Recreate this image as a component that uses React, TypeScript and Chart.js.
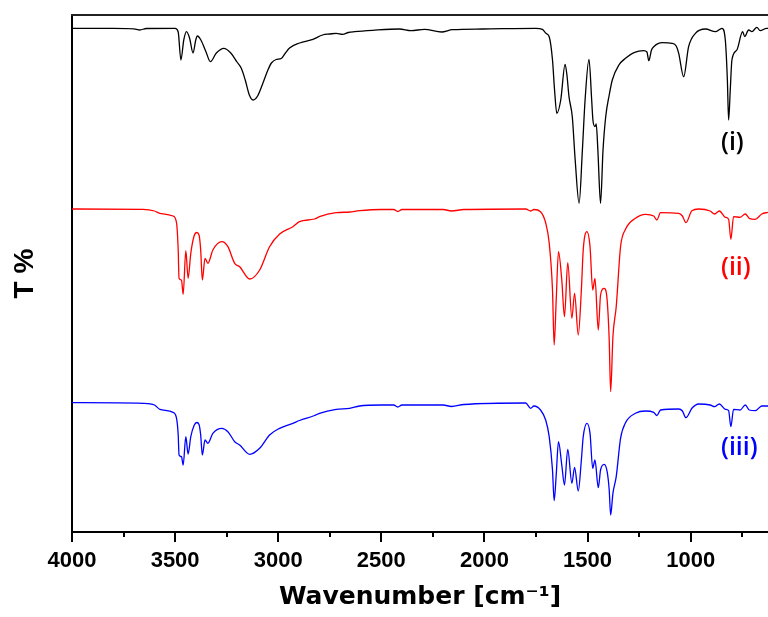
import { useEffect, useRef } from "react";
import { Chart, registerables } from "chart.js";

Chart.register(...registerables);

// ---- Data (wavenumber in cm^-1, transmittance in arbitrary stacked units) ----
const wavenumbersI = [
  4000, 3800, 3700, 3671, 3640, 3500, 3485, 3472, 3458, 3445,
  3430, 3413, 3400, 3392, 3375, 3350, 3329, 3300, 3264, 3230,
  3200, 3179, 3160, 3140, 3122, 3100, 3074, 3050, 3033, 3010,
  2985, 2965, 2945, 2896, 2832, 2785, 2750, 2719, 2688, 2660,
  2630, 2542, 2412, 2356, 2291, 2208, 2155, 2010, 1751, 1719,
  1702, 1686, 1670, 1660, 1649, 1630, 1609, 1600, 1590, 1574,
  1560, 1541, 1525, 1512, 1493, 1480, 1474, 1464, 1458, 1450,
  1437, 1425, 1412, 1395, 1380, 1348, 1316, 1275, 1227, 1212,
  1203, 1190, 1179, 1138, 1090, 1070, 1058, 1034, 1010, 977,
  928, 880, 848, 832, 822, 816, 808, 800, 776, 748,
  738, 719, 703, 679, 663, 632, 620,
];
const transmittanceI = [
  503.7, 503.7, 503.2, 502, 503.5, 503.7, 500, 472, 492, 500.3,
  494, 479, 492, 496, 492, 480, 470.3, 479, 483.7, 479,
  470, 463.7, 452, 437, 432, 436, 449, 462, 469, 472.5,
  473.5, 479, 484, 489, 492.7, 497, 498, 498.7, 497.7, 499.5,
  500.3, 501.7, 503, 501.3, 502.7, 500, 502.3, 503, 503.7, 502.7,
  498.7, 495.3, 472, 442, 418.7, 432, 467.7, 457, 435.3, 415.3,
  372, 328.7, 382, 432, 472.7, 432, 412, 405.3, 408, 382,
  328.7, 382, 415.3, 437, 452, 467, 473.7, 479.3, 481.3, 480,
  471.3, 482, 485.3, 489.3, 488.7, 486, 478.7, 455.3, 485.3, 498.7,
  503, 500.3, 503.7, 492, 452, 412, 442, 472, 482, 500.3,
  495.3, 502, 500.3, 504.7, 501.3, 503.7, 503.7,
];

const wavenumbersIIandIII = [
  4000, 3655, 3600, 3574, 3510, 3493, 3485, 3481, 3469, 3461,
  3448, 3437, 3424, 3408, 3395, 3384, 3376, 3368, 3355, 3341, 3317,
  3273, 3244, 3211, 3187, 3138, 3090, 3042, 2993, 2929, 2897,
  2824, 2800, 2719, 2654, 2606, 2500, 2440, 2420, 2400, 2200,
  2160, 2100, 1800, 1776, 1760, 1728, 1703, 1686, 1670, 1662,
  1652, 1641, 1625, 1612, 1596, 1576, 1563, 1545, 1530, 1521,
  1503, 1488, 1475, 1464, 1448, 1437, 1419, 1405, 1395, 1388,
  1377, 1361, 1340, 1316, 1268, 1219, 1179, 1164, 1146, 1058,
  1040, 1023, 994, 961, 905, 884, 861, 832, 816, 805,
  792, 760, 735, 716, 687, 655, 625,
];
const transmittanceII = [
  323, 322.7, 321, 318.7, 316, 309, 282, 253.7, 252, 237.7,
  281.3, 253.7, 278.7, 296, 299.5, 297, 282, 252, 273.7, 268.7, 282,
  290.3, 285.3, 268.7, 265.3, 253, 262, 285.3, 298, 305.3, 310.3,
  313, 315.3, 319.3, 320, 321.3, 322.5, 322.5, 320.5, 322.5, 322.5,
  321, 322.5, 323, 321, 322.5, 320.3, 309, 289, 242, 187,
  232, 280.3, 252, 215.3, 269.3, 213.7, 238.7, 197, 242, 282,
  300.3, 285.3, 242, 253.7, 202, 237, 243.7, 232, 192, 140.3,
  195.3, 225.3, 285.3, 302.7, 313.7, 317.7, 316, 312, 319.3, 318.7,
  316, 309.3, 321.3, 323, 321, 318, 321, 314.7, 312.7, 292.7,
  315.3, 314.7, 318, 313.7, 312.7, 318, 319.7,
];
const transmittanceIII = [
  129.3, 128.7, 127, 122.7, 119.7, 113.7, 97, 77, 75.3, 67,
  95.3, 78, 95.3, 106.5, 109.5, 107.5, 97, 77, 92, 88.7, 98.7,
  103.7, 100.3, 90.3, 87, 77.7, 83.7, 97, 103.7, 108.7, 111.5,
  116.5, 118.7, 122.7, 123.7, 126, 127, 127, 125, 127, 127,
  125.5, 127.5, 129, 123.7, 126, 122, 112, 95.3, 62, 31.3,
  57, 90.3, 67, 47, 82.7, 48.7, 64.7, 41, 72, 95.3,
  108.7, 98.7, 63.7, 72, 44.3, 62, 67.7, 60.3, 42, 17,
  38.7, 55.3, 93.7, 109.3, 118.7, 121, 119.7, 116.3, 122, 123,
  121, 114.3, 123.7, 128, 127, 125.3, 128, 122.7, 121.3, 105.3,
  122.7, 122, 127, 122, 121.3, 126, 126,
];

const majorTicks = [4000, 3500, 3000, 2500, 2000, 1500, 1000];
const minorTicks = [3750, 3250, 2750, 2250, 1750, 1250, 750];
const seriesLabels = ["(i)", "(ii)", "(iii)"];
const seriesColors = ["#000000", "#ff0000", "#0000ff"];
const labelWavenumbers = [853, 853, 853];
const labelLevels = [389, 264, 84];
const xRange = [625, 4000];
const yRange = [0, 517];

const toPoints = (xs: number[], ys: number[]) =>
  xs.map((x, i) => ({ x, y: ys[i] }));

const decorations = {
  id: "decorations",
  afterDraw(chart: any) {
    const { ctx, chartArea, scales } = chart;
    const xs = scales.x;
    const ys = scales.y;
    ctx.save();
    // top frame line
    ctx.strokeStyle = "#222";
    ctx.lineWidth = 2;
    ctx.beginPath();
    ctx.moveTo(chartArea.left - 1, chartArea.top);
    ctx.lineTo(chartArea.right, chartArea.top);
    ctx.stroke();
    // outward tick marks
    ctx.strokeStyle = "#000";
    ctx.lineWidth = 2;
    const b = chartArea.bottom;
    majorTicks.forEach((v) => {
      const px = Math.round(xs.getPixelForValue(v));
      ctx.beginPath();
      ctx.moveTo(px, b);
      ctx.lineTo(px, b + 10);
      ctx.stroke();
    });
    minorTicks.forEach((v) => {
      const px = Math.round(xs.getPixelForValue(v));
      ctx.beginPath();
      ctx.moveTo(px, b);
      ctx.lineTo(px, b + 5);
      ctx.stroke();
    });
    // series labels
    ctx.font = "600 25px 'Open Sans', 'Liberation Sans', sans-serif";
    ctx.textAlign = "left";
    ctx.textBaseline = "middle";
    seriesLabels.forEach((t, i) => {
      ctx.fillStyle = seriesColors[i];
      ctx.fillText(
        t,
        xs.getPixelForValue(labelWavenumbers[i]),
        ys.getPixelForValue(labelLevels[i])
      );
    });
    ctx.restore();
  },
};

export default function App() {
  const canvasRef = useRef<HTMLCanvasElement | null>(null);

  useEffect(() => {
    if (!canvasRef.current) return;
    const series = [
      toPoints(wavenumbersI, transmittanceI),
      toPoints(wavenumbersIIandIII, transmittanceII),
      toPoints(wavenumbersIIandIII, transmittanceIII),
    ];
    const chart = new Chart(canvasRef.current, {
      type: "line",
      data: {
        datasets: series.map((pts, i) => ({
          label: seriesLabels[i],
          data: pts,
          borderColor: seriesColors[i],
          backgroundColor: seriesColors[i],
          borderWidth: 1.3,
          pointRadius: 0,
          fill: false,
          cubicInterpolationMode: "monotone" as const,
        })),
      },
      options: {
        responsive: false,
        animation: false,
        devicePixelRatio: 1,
        layout: { padding: { top: 15, left: 0, right: 0, bottom: 0 } },
        plugins: {
          legend: { display: false },
          tooltip: { enabled: false },
        },
        scales: {
          x: {
            type: "linear",
            reverse: true,
            min: xRange[0],
            max: xRange[1],
            afterBuildTicks: (s: any) => {
              s.ticks = majorTicks.map((v) => ({ value: v }));
            },
            afterFit: (s: any) => {
              s.height = 85;
            },
            grid: { display: false, drawTicks: false },
            border: { display: true, color: "#000", width: 2 },
            ticks: {
              color: "#000",
              padding: 18,
              autoSkip: false,
              maxRotation: 0,
              font: {
                family: "'Liberation Sans', Arial, sans-serif",
                weight: "bold",
                size: 22,
                lineHeight: 1,
              },
              callback: (v: any) => String(v),
            },
            title: {
              display: true,
              text: "Wavenumber [cm⁻¹]",
              color: "#000",
              font: {
                family: "'DejaVu Sans', sans-serif",
                weight: "bold",
                size: 25,
                lineHeight: 1,
              },
              padding: { top: 0, bottom: 7 },
            },
          },
          y: {
            type: "linear",
            min: yRange[0],
            max: yRange[1],
            afterFit: (s: any) => {
              s.width = 72;
            },
            grid: { display: false, drawTicks: false },
            border: { display: true, color: "#000", width: 2 },
            ticks: { display: false },
            title: {
              display: true,
              text: "T %",
              color: "#000",
              font: {
                family: "'Liberation Sans', Arial, sans-serif",
                weight: "bold",
                size: 28,
                lineHeight: 1,
              },
              padding: { top: 11, bottom: 0 },
            },
          },
        },
      },
      plugins: [decorations],
    });
    return () => chart.destroy();
  }, []);

  return (
    <div
      style={{
        position: "absolute",
        left: 0,
        top: 0,
        width: 768,
        height: 617,
        background: "#fff",
      }}
    >
      <canvas
        ref={canvasRef}
        width={768}
        height={617}
        style={{ display: "block", width: 768, height: 617 }}
      />
    </div>
  );
}
